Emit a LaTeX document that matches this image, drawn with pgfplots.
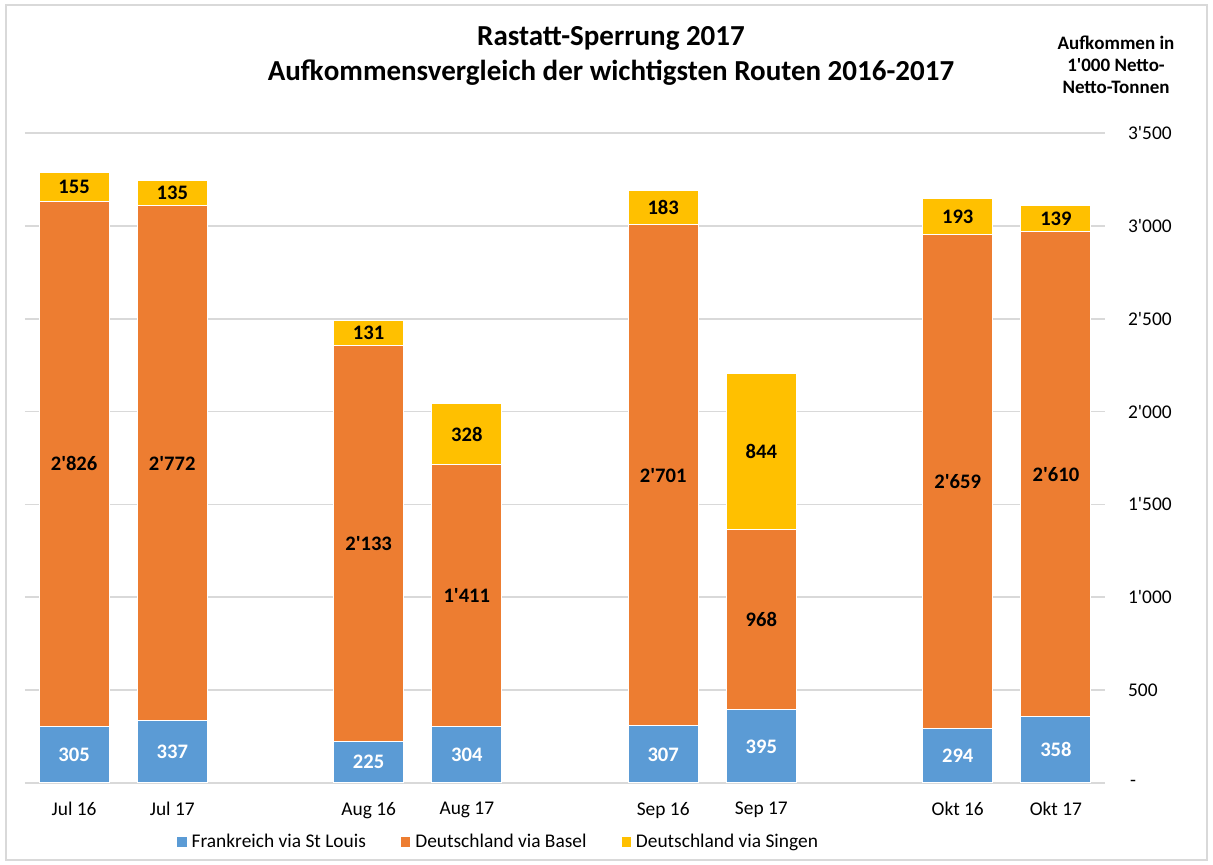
\documentclass[border=0pt]{standalone}
\usepackage{pgfplots}
\pgfplotsset{compat=1.18}
\usepackage{pgfplotstable}
\usepackage{fontspec}
\setmainfont{Carlito}
\newcommand\q{\textquotesingle}
\definecolor{cblue}{HTML}{5B9BD5}
\definecolor{corange}{HTML}{ED7D31}
\definecolor{cyellow}{HTML}{FFC000}
\definecolor{cgrid}{HTML}{D9D9D9}
\pgfplotstableread{
x a b c
0 305 2826 155
1 337 2772 135
3 225 2133 131
4 304 1411 328
6 307 2701 183
7 395 968 844
9 294 2659 193
10 358 2610 139
}\data
\pgfplotsset{base/.style={
  at={(0,0)}, anchor=south west, scale only axis, width=540pt, height=325pt,
  xmin=-0.5, xmax=10.5, ymin=0, ymax=3500, clip=false,
}}
\begin{document}
\begin{tikzpicture}
\path[use as bounding box] (-12.5pt,-41pt) rectangle (594pt,391.5pt);
\draw[cgrid, line width=0.6pt] (-9.5pt,-38.5pt) rectangle (591pt,389pt);
\begin{axis}[base, ybar stacked, bar width=35pt,
  axis line style={draw=none}, major tick length=0pt,
  ymajorgrids, grid style={cgrid, line width=0.8pt},
  ytick={0,500,...,3500},
  yticklabels={\hspace{1pt}-,500,1\q000,1\q500,2\q000,2\q500,3\q000,3\q500},
  yticklabel pos=right,
  yticklabel style={anchor=west, xshift=8pt, font=\fontsize{9.7}{11}\selectfont},
  xtick={0,1,3,4,6,7,9,10},
  xticklabels={Jul 16,Jul 17,Aug 16,Aug 17,Sep 16,Sep 17,Okt 16,Okt 17},
  xticklabel style={font=\fontsize{9.7}{11}\selectfont, yshift=-6pt},
  legend style={draw=none, at={(0.439,-0.091)}, anchor=center, legend columns=3,
    font=\fontsize{9.7}{11}\selectfont,
    /tikz/every even column/.append style={column sep=15pt}},
  legend image code/.code={\fill[#1] (0pt,-2.6pt) rectangle (5.2pt,2.6pt);},
]
\addplot[fill=cblue, draw=white, line width=0.5pt] table[x=x,y=a]{\data};
\addplot[fill=corange, draw=white, line width=0.5pt] table[x=x,y=b]{\data};
\addplot[fill=cyellow, draw=white, line width=0.5pt] table[x=x,y=c]{\data};
\legend{Frankreich via St Louis, Deutschland via Basel, Deutschland via Singen}
\node[font=\bfseries\fontsize{14.5}{17.5}\selectfont, align=center, yshift=38.75pt] at (rel axis cs:0.5426,1)
  {Rastatt-Sperrung 2017\\Aufkommensvergleich der wichtigsten Routen 2016-2017};
\node[font=\bfseries\fontsize{9.5}{11}\selectfont, align=center, yshift=34.25pt] at (rel axis cs:1.0102,1)
  {Aufkommen in\\1\q000 Netto-\\Netto-Tonnen};
\end{axis}
\begin{axis}[base, hide axis,
  /pgf/number format/1000 sep={\q}, /pgf/number format/assume math mode=true,
  nodes near coords, point meta=explicit]
\addplot[draw=none, mark=none, nodes near coords style={anchor=center, text=white, font=\bfseries\fontsize{10.3}{12}\selectfont}]
  table[x=x, y expr=\thisrow{a}/2, meta=a]{\data};
\addplot[draw=none, mark=none, nodes near coords style={anchor=center, text=black, font=\bfseries\fontsize{10.3}{12}\selectfont}]
  table[x=x, y expr=\thisrow{a}+\thisrow{b}/2, meta=b]{\data};
\addplot[draw=none, mark=none, nodes near coords style={anchor=center, text=black, font=\bfseries\fontsize{10.3}{12}\selectfont}]
  table[x=x, y expr=\thisrow{a}+\thisrow{b}+\thisrow{c}/2, meta=c]{\data};
\end{axis}
\end{tikzpicture}
\end{document}
